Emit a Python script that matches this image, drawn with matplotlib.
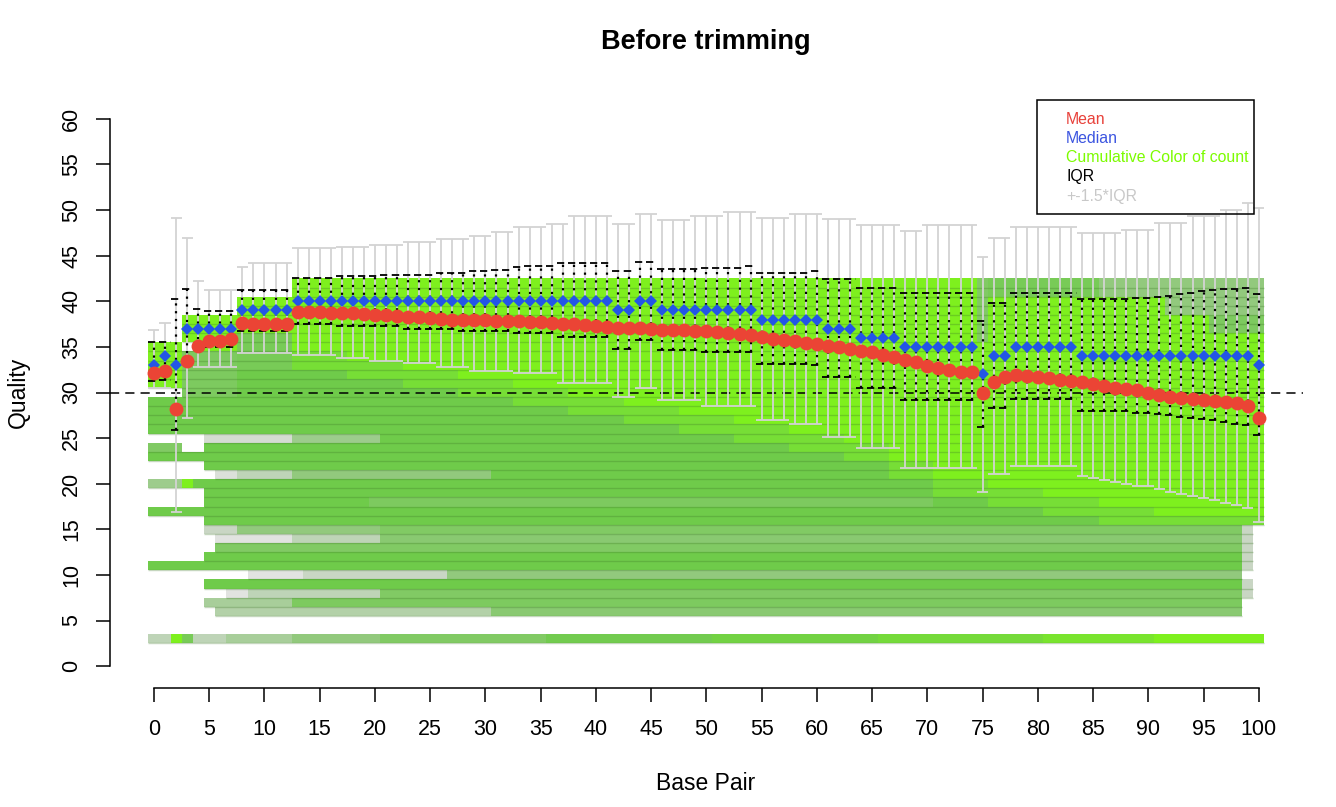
import numpy as np
import matplotlib.pyplot as plt
from matplotlib.colors import LinearSegmentedColormap
from matplotlib.patches import Rectangle

plt.rcParams['font.family'] = ['Liberation Sans', 'DejaVu Sans']

# base pair positions 0..100
pos = np.arange(101)

mean_q = [32.1, 32.4, 28.2, 33.4, 35.1, 35.6, 35.7, 35.9, 37.6, 37.5,
          37.5, 37.5, 37.5, 38.8, 38.8, 38.8, 38.7, 38.7, 38.7, 38.6,
          38.5, 38.5, 38.4, 38.3, 38.3, 38.2, 38.1, 38.0, 38.0, 37.9,
          37.9, 37.8, 37.8, 37.8, 37.7, 37.7, 37.6, 37.5, 37.5, 37.4,
          37.3, 37.2, 37.1, 37.1, 37.1, 37.0, 36.9, 36.9, 36.8, 36.7,
          36.7, 36.6, 36.5, 36.4, 36.3, 36.1, 35.9, 35.8, 35.6, 35.4,
          35.3, 35.1, 35.0, 34.8, 34.6, 34.4, 34.1, 33.9, 33.6, 33.3,
          32.9, 32.7, 32.5, 32.3, 32.2, 30.0, 31.2, 31.7, 31.9, 31.8,
          31.7, 31.6, 31.4, 31.3, 31.1, 30.9, 30.7, 30.5, 30.4, 30.3,
          30.0, 29.7, 29.5, 29.4, 29.3, 29.2, 29.1, 29.0, 28.8, 28.5,
          27.2]

median_q = [33, 34, 33, 37, 37, 37, 37, 37, 39, 39,
            39, 39, 39, 40, 40, 40, 40, 40, 40, 40,
            40, 40, 40, 40, 40, 40, 40, 40, 40, 40,
            40, 40, 40, 40, 40, 40, 40, 40, 40, 40,
            40, 40, 39, 39, 40, 40, 39, 39, 39, 39,
            39, 39, 39, 39, 39, 38, 38, 38, 38, 38,
            38, 37, 37, 37, 36, 36, 36, 36, 35, 35,
            35, 35, 35, 35, 35, 32, 34, 34, 35, 35,
            35, 35, 35, 35, 34, 34, 34, 34, 34, 34,
            34, 34, 34, 34, 34, 34, 34, 34, 34, 34,
            33]

q3 = [35.5, 35.5, 40.3, 41.4, 39.2, 38.9, 38.9, 38.9, 41.2, 41.2,
      41.2, 41.2, 41.2, 42.6, 42.6, 42.6, 42.6, 42.8, 42.8, 42.8,
      42.8, 42.9, 42.9, 42.9, 42.9, 42.9, 43.1, 43.1, 43.1, 43.3,
      43.3, 43.4, 43.4, 43.8, 43.9, 43.9, 43.9, 44.2, 44.2, 44.2,
      44.2, 44.2, 43.3, 43.3, 44.3, 44.3, 43.5, 43.5, 43.5, 43.5,
      43.7, 43.7, 43.7, 43.7, 43.9, 43.1, 43.1, 43.1, 43.1, 43.1,
      43.3, 42.4, 42.4, 42.4, 41.5, 41.5, 41.5, 41.5, 40.9, 40.9,
      40.9, 40.9, 40.9, 40.9, 40.9, 37.8, 39.8, 39.8, 40.9, 40.9,
      40.9, 40.9, 40.9, 40.9, 40.2, 40.2, 40.2, 40.3, 40.3, 40.4,
      40.4, 40.5, 40.6, 40.8, 40.9, 41.1, 41.2, 41.3, 41.4, 41.5,
      40.8]

q1 = [31.3, 31.4, 25.9, 33.5, 35.0, 35.0, 35.0, 35.0, 36.7, 36.7,
      36.7, 36.7, 36.7, 37.5, 37.5, 37.5, 37.5, 37.3, 37.3, 37.3,
      37.3, 37.3, 37.3, 37.0, 37.0, 37.0, 37.0, 37.0, 36.7, 36.7,
      36.7, 36.7, 36.7, 36.5, 36.5, 36.5, 36.5, 36.1, 36.1, 36.1,
      36.1, 36.1, 34.8, 34.8, 35.8, 35.8, 34.7, 34.7, 34.7, 34.7,
      34.4, 34.4, 34.4, 34.4, 34.4, 33.1, 33.1, 33.1, 33.1, 33.1,
      33.0, 31.7, 31.7, 31.7, 30.5, 30.5, 30.5, 30.5, 29.2, 29.2,
      29.2, 29.2, 29.2, 29.2, 29.2, 26.2, 28.3, 28.3, 29.3, 29.3,
      29.3, 29.3, 29.3, 29.3, 28.0, 28.0, 28.0, 28.0, 28.0, 27.8,
      27.7, 27.6, 27.5, 27.3, 27.2, 27.1, 27.0, 26.8, 26.6, 26.4,
      25.3]

whisk_hi = [36.9, 37.6, 49.1, 46.9, 42.2, 41.2, 41.2, 41.2, 43.8, 44.2,
            44.2, 44.2, 44.2, 45.8, 45.8, 45.8, 45.8, 46.0, 46.0, 46.0,
            46.2, 46.2, 46.2, 46.5, 46.5, 46.5, 46.8, 46.8, 46.8, 47.2,
            47.2, 47.6, 47.6, 48.2, 48.2, 48.2, 48.5, 48.5, 49.3, 49.3,
            49.3, 49.3, 48.5, 48.5, 49.6, 49.6, 48.9, 48.9, 48.9, 49.3,
            49.3, 49.3, 49.8, 49.8, 49.8, 49.1, 49.1, 49.1, 49.6, 49.6,
            49.6, 49.0, 49.0, 49.0, 48.4, 48.4, 48.4, 48.4, 47.7, 47.7,
            48.4, 48.4, 48.4, 48.4, 48.4, 44.9, 46.9, 46.9, 48.1, 48.1,
            48.1, 48.1, 48.1, 48.1, 47.5, 47.5, 47.5, 47.5, 47.8, 47.8,
            47.8, 48.6, 48.6, 48.6, 49.3, 49.3, 49.3, 50.0, 50.0, 50.8,
            50.2]

whisk_lo = [30.5, 30.5, 16.9, 27.2, 32.8, 32.8, 32.8, 32.8, 34.3, 34.3,
            34.3, 34.3, 34.3, 34.1, 34.1, 34.1, 34.1, 33.8, 33.8, 33.8,
            33.5, 33.5, 33.5, 33.2, 33.2, 33.2, 32.8, 32.8, 32.8, 32.4,
            32.4, 32.4, 32.4, 32.1, 32.1, 32.1, 32.1, 31.0, 31.0, 31.0,
            31.0, 31.0, 29.5, 29.5, 30.5, 30.5, 29.2, 29.2, 29.2, 29.2,
            28.5, 28.5, 28.5, 28.5, 28.5, 27.0, 27.0, 27.0, 26.5, 26.5,
            26.5, 25.1, 25.1, 25.1, 23.9, 23.9, 23.9, 23.9, 21.7, 21.7,
            21.7, 21.7, 21.7, 21.7, 21.7, 19.1, 21.1, 21.1, 21.9, 21.9,
            21.9, 21.9, 21.9, 21.9, 20.8, 20.6, 20.4, 20.2, 20.0, 19.8,
            19.7, 19.4, 19.1, 18.9, 18.6, 18.4, 18.2, 17.9, 17.7, 17.3,
            15.8]

# quality rows of the count map: which base pairs have reads at that quality
row_q = [3, 6, 7, 8, 9, 10, 11, 12, 13, 14,
         15, 16, 17, 18, 19, 20, 21, 22, 23, 24,
         25, 26, 27, 28, 29, 30, 31, 32, 33, 34,
         35, 36, 37, 38, 39, 40, 41, 42]
row_first = [0, 6, 5, 7, 5, 9, 0, 5, 6, 6,
             5, 5, 0, 5, 5, 0, 6, 5, 0, 0,
             5, 0, 0, 0, 0, 3, 0, 0, 0, 0,
             0, 3, 3, 3, 8, 8, 13, 13]
row_last = [100, 98, 98, 99, 99, 98, 99, 99, 99, 99,
            99, 100, 100, 100, 100, 100, 100, 100, 100, 100,
            100, 100, 100, 100, 100, 100, 100, 100, 100, 100,
            100, 100, 100, 100, 100, 100, 100, 100]
gaps = [(24, 3, 4), (35, 3, 3)]

# (q low, q high, first bp, last bp, cumulative shade 0=grey .. 1=lawngreen)
shade_blocks = [
    (3, 3, 0, 1, 0.3), (3, 3, 2, 2, 1.0), (3, 3, 3, 3, 0.65), (3, 3, 4, 6, 0.3),
    (3, 3, 7, 12, 0.4), (3, 3, 13, 20, 0.5), (3, 3, 21, 35, 0.6), (3, 3, 36, 50, 0.68),
    (3, 3, 51, 65, 0.75), (3, 3, 66, 80, 0.82), (3, 3, 81, 90, 0.9), (3, 3, 91, 100, 1.0),
    (6, 6, 6, 30, 0.35), (6, 6, 31, 98, 0.55),
    (7, 7, 5, 12, 0.4), (7, 7, 13, 98, 0.62),
    (8, 8, 7, 8, 0.05), (8, 8, 9, 20, 0.3), (8, 8, 21, 98, 0.6),
    (10, 10, 9, 13, 0.05), (10, 10, 14, 26, 0.25), (10, 10, 27, 98, 0.5),
    (13, 13, 6, 98, 0.6),
    (14, 14, 6, 12, 0.05), (14, 14, 13, 20, 0.3), (14, 14, 21, 99, 0.55),
    (15, 15, 5, 7, 0.25), (15, 15, 8, 20, 0.5), (15, 15, 21, 99, 0.6),
    (8, 15, 99, 99, 0.25),
    (18, 18, 20, 70, 0.62),
    (20, 20, 0, 2, 0.45), (20, 20, 3, 3, 1.0),
    (21, 21, 6, 7, 0.1), (21, 21, 8, 12, 0.3), (21, 21, 13, 30, 0.5),
    (24, 24, 0, 2, 0.6),
    (25, 25, 5, 12, 0.15), (25, 25, 13, 20, 0.45),
    (30, 34, 3, 7, 0.62), (33, 36, 8, 12, 0.65),
    (31, 35, 0, 2, 1.0),
    (35, 38, 3, 7, 1.0),
    (37, 40, 8, 12, 1.0),
    (33, 34, 13, 17, 0.85), (35, 42, 13, 17, 1.0),
    (32, 33, 18, 22, 0.85), (34, 42, 18, 22, 1.0),
    (31, 32, 23, 27, 0.85), (33, 42, 23, 27, 1.0),
    (30, 31, 28, 32, 0.85), (32, 42, 28, 32, 1.0),
    (29, 30, 33, 37, 0.85), (31, 42, 33, 37, 1.0),
    (28, 29, 38, 42, 0.85), (30, 42, 38, 42, 1.0),
    (27, 28, 43, 47, 0.85), (29, 42, 43, 47, 1.0),
    (26, 27, 48, 52, 0.85), (28, 42, 48, 52, 1.0),
    (25, 26, 53, 57, 0.85), (27, 42, 53, 57, 1.0),
    (24, 25, 58, 62, 0.85), (26, 42, 58, 62, 1.0),
    (23, 24, 63, 66, 0.85), (25, 42, 63, 66, 1.0),
    (21, 22, 67, 70, 0.85), (23, 42, 67, 70, 1.0),
    (19, 20, 71, 75, 0.85), (21, 42, 71, 75, 1.0),
    (18, 19, 76, 80, 0.85), (20, 42, 76, 80, 1.0),
    (17, 18, 81, 85, 0.85), (19, 42, 81, 85, 1.0),
    (16, 17, 86, 90, 0.85), (18, 42, 86, 90, 1.0),
    (16, 16, 91, 100, 0.85), (17, 42, 91, 100, 1.0),
    (41, 42, 75, 85, 0.65), (41, 42, 86, 100, 0.5),
    (39, 40, 92, 100, 0.5), (37, 38, 96, 100, 0.62), (36, 42, 75, 75, 0.6),
]

# ---- build the count map ----
M = np.full((43, 101), np.nan)
for q, a, b in zip(row_q, row_first, row_last):
    M[q, a:b + 1] = 0.7
for q, a, b in gaps:
    M[q, a:b + 1] = np.nan
for qa, qb, a, b, s in shade_blocks:
    blk = M[qa:qb + 1, a:b + 1]
    blk[~np.isnan(blk)] = s

cmap = LinearSegmentedColormap.from_list('cum', [
    (0.0, '#e6e6e6'), (0.25, '#c9d6c4'), (0.5, '#92c97e'),
    (0.7, '#6fcb4a'), (0.85, '#77de36'), (1.0, '#7ef01e')])
cmap.set_bad((1, 1, 1, 0))

fig = plt.figure(figsize=(13.36, 8.07), dpi=100)
ax = fig.add_axes([110 / 1336, 1 - 688 / 807, 1193 / 1336, 591 / 807])

xe = np.arange(-0.5, 101.5, 1)
ye = np.arange(-0.5, 43.5, 1)
ax.pcolormesh(xe, ye, np.ma.masked_invalid(M), cmap=cmap, vmin=0, vmax=1,
              shading='flat', zorder=1)
for q, a, b in zip(row_q, row_first, row_last):
    ax.hlines(q - 0.5, a - 0.5, b + 0.5, color='#3f7a28', alpha=0.3, lw=1, zorder=1.5)

ax.axhline(30, color='black', lw=1.1, linestyle=(0, (6, 4)), zorder=2)

# +-1.5*IQR whiskers
ax.vlines(pos, whisk_lo, whisk_hi, color='#d3d3d3', lw=1.3, zorder=3)
ax.hlines(whisk_hi, pos - 0.5, pos + 0.5, color='#d3d3d3', lw=1.3, zorder=3)
ax.hlines(whisk_lo, pos - 0.5, pos + 0.5, color='#d3d3d3', lw=1.3, zorder=3)

# IQR
ax.vlines(pos, q1, q3, color='black', lw=1.6, linestyle=(0, (1, 2.5)), zorder=4)
ax.hlines(q3, pos - 0.5, pos + 0.5, color='black', lw=1.3, linestyle=(0, (4, 2.5)), zorder=4)
ax.hlines(q1, pos - 0.5, pos + 0.5, color='black', lw=1.3, linestyle=(0, (4, 2.5)), zorder=4)

ax.plot(pos, median_q, 'D', color='#2356e6', ms=6.5, mew=0, zorder=5)
ax.plot(pos, mean_q, 'o', color='#eb4435', ms=10, mew=0, zorder=6)

ax.set_xlim(-3.98, 104.0)
ax.set_ylim(-2.4, 62.4)
ax.set_xticks(range(0, 101, 5))
ax.set_yticks(range(0, 61, 5))
for s in ['top', 'right']:
    ax.spines[s].set_visible(False)
ax.spines['left'].set_bounds(0, 60)
ax.spines['bottom'].set_bounds(0, 100)
for s in ['left', 'bottom']:
    ax.spines[s].set_linewidth(1.1)
ax.tick_params(direction='out', length=10, width=1.1, labelsize=15.5)
ax.tick_params(axis='x', pad=12)
ax.tick_params(axis='y', pad=10)
for lab in ax.get_yticklabels():
    lab.set_rotation(90)
    lab.set_va('center')

fig.text(706 / 1336, 1 - 42 / 807, 'Before trimming', ha='center', va='center',
         fontsize=19.5, fontweight='bold')
fig.text(706 / 1336, 1 - 783 / 807, 'Base Pair', ha='center', va='center', fontsize=16.5)
fig.text(18 / 1336, 1 - 392 / 807, 'Quality', ha='center', va='center',
         rotation=90, fontsize=16.5)

# legend box
fig.patches.append(Rectangle((1037 / 1336, 1 - 214 / 807), 217 / 1336, 114 / 807,
                             transform=fig.transFigure, fill=False, ec='black', lw=1.1))
leg_labels = ['Mean', 'Median', 'Cumulative Color of count', 'IQR', '+-1.5*IQR']
leg_colors = ['#e8413a', '#3c55e0', '#7cfc00', 'black', '#c8c8c8']
for i, (t, c) in enumerate(zip(leg_labels, leg_colors)):
    fig.text(1066 / 1336, 1 - (119 + 19.3 * i) / 807, t, color=c, fontsize=11.4,
             ha='left', va='center')

fig.savefig('out.png', dpi=100)
